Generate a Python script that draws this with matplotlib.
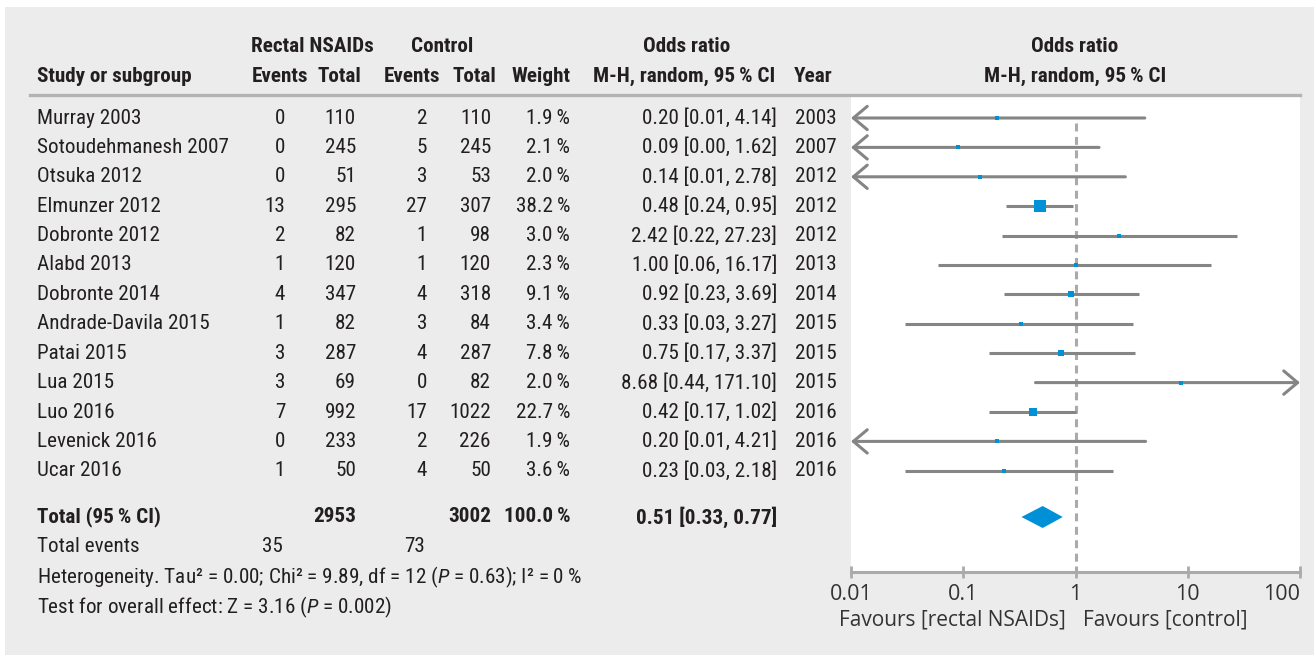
import numpy as np
import matplotlib
matplotlib.use("Agg")
import matplotlib.pyplot as plt
from matplotlib.patches import Rectangle, Polygon
from matplotlib.lines import Line2D
from matplotlib.ticker import NullLocator

plt.rcParams['font.family'] = ['Roboto Condensed', 'Roboto', 'DejaVu Sans']
plt.rcParams['mathtext.fontset'] = 'custom'
plt.rcParams['mathtext.rm'] = 'Roboto Condensed'
plt.rcParams['mathtext.it'] = 'Roboto Condensed:italic'

# data
studies = ["Murray 2003", "Sotoudehmanesh 2007", "Otsuka 2012", "Elmunzer 2012",
           "Dobronte 2012", "Alabd 2013", "Dobronte 2014", "Andrade-Davila 2015",
           "Patai 2015", "Lua 2015", "Luo 2016", "Levenick 2016", "Ucar 2016"]
ev_nsaid = [0, 0, 0, 13, 2, 1, 4, 1, 3, 3, 7, 0, 1]
tot_nsaid = [110, 245, 51, 295, 82, 120, 347, 82, 287, 69, 992, 233, 50]
ev_ctrl = [2, 5, 3, 27, 1, 1, 4, 3, 4, 0, 17, 2, 4]
tot_ctrl = [110, 245, 53, 307, 98, 120, 318, 84, 287, 82, 1022, 226, 50]
weight = [1.9, 2.1, 2.0, 38.2, 3.0, 2.3, 9.1, 3.4, 7.8, 2.0, 22.7, 1.9, 3.6]
odds = [0.20, 0.09, 0.14, 0.48, 2.42, 1.00, 0.92, 0.33, 0.75, 8.68, 0.42, 0.20, 0.23]
ci_lo = [0.01, 0.00, 0.01, 0.24, 0.22, 0.06, 0.23, 0.03, 0.17, 0.44, 0.17, 0.01, 0.03]
ci_hi = [4.14, 1.62, 2.78, 0.95, 27.23, 16.17, 3.69, 3.27, 3.37, 171.10, 1.02, 4.21, 2.18]
years = [2003, 2007, 2012, 2012, 2012, 2013, 2014, 2015, 2015, 2015, 2016, 2016, 2016]

total_nsaid, total_ctrl = 2953, 3002
events_nsaid, events_ctrl = 35, 73
pooled, pooled_lo, pooled_hi = 0.51, 0.33, 0.77
xticks = [0.01, 0.1, 1, 10, 100]
xticklabels = ['0.01', '0.1', '1', '10', '100']

W, H = 1314, 655
def fx(x):
    return x / W
def fy(y):
    return 1 - y / H

TXT = '#231f20'
GRID = '#aaaaaa'
LINE = '#858585'
BLUE = '#0090d8'
FS = 15.2

fig = plt.figure(figsize=(W / 100, H / 100), dpi=100)
fig.patches.append(Rectangle((fx(5), 0), 1 - fx(5), fy(7), transform=fig.transFigure,
                             facecolor='#ebeceb', edgecolor='none', zorder=-5))

def t(x, y, s, ha='left', bold=False, size=FS):
    fig.text(fx(x), fy(y), s, ha=ha, va='center', color=TXT, fontsize=size,
             fontweight='bold' if bold else 'normal')

# header
t(312, 46, "Rectal NSAIDs", 'center', True)
t(442, 46, "Control", 'center', True)
t(687, 46, "Odds ratio", 'center', True)
t(1075, 46, "Odds ratio", 'center', True)
t(37, 76, "Study or subgroup", bold=True)
t(280, 76, "Events", 'center', True)
t(339, 76, "Total", 'center', True)
t(412, 76, "Events", 'center', True)
t(474, 76, "Total", 'center', True)
t(541, 76, "Weight", 'center', True)
t(684, 76, "M-H, random, 95\u2009% CI", 'center', True)
t(813, 76, "Year", 'center', True)
t(1075, 76, "M-H, random, 95\u2009% CI", 'center', True)
fig.add_artist(Line2D([fx(30), fx(1300)], [fy(95), fy(95)], color='#b3b3b3', lw=2.4))

row0, step = 118, 29.4
rows = [row0 + i * step for i in range(len(studies))]
for i, y in enumerate(rows):
    t(37, y, studies[i])
    t(285, y, str(ev_nsaid[i]), 'right')
    t(356, y, str(tot_nsaid[i]), 'right')
    t(427, y, str(ev_ctrl[i]), 'right')
    t(491, y, str(tot_ctrl[i]), 'right')
    t(570, y, f"{weight[i]:.1f}\u2009%", 'right')
    t(777, y, f"{odds[i]:.2f} [{ci_lo[i]:.2f}, {ci_hi[i]:.2f}]", 'right')
    t(795, y, str(years[i]))

ytot = 517
t(37, ytot, "Total (95\u2009% CI)", bold=True)
t(356, ytot, str(total_nsaid), 'right', True)
t(491, ytot, str(total_ctrl), 'right', True)
t(570, ytot, "100.0\u2009%", 'right', True)
t(777, ytot, f"{pooled:.2f} [{pooled_lo:.2f}, {pooled_hi:.2f}]", 'right', True)
t(37, 546, "Total events")
t(283, 546, str(events_nsaid), 'right')
t(425, 546, str(events_ctrl), 'right')
t(37, 577, "Heterogeneity. Tau\u00b2 = 0.00; Chi\u00b2 = 9.89, df = 12 ($\\mathit{P}$ = 0.63); I\u00b2 = 0\u2009%")
t(37, 607, "Test for overall effect: Z = 3.16 ($\\mathit{P}$ = 0.002)")

# forest panel
ax = fig.add_axes([fx(851), fy(572), fx(1300) - fx(851), (572 - 97) / H])
ax.set_facecolor('white')
ax.set_xscale('log')
ax.set_xlim(0.01, 100)
ax.set_ylim(572, 97)
for s in ['top', 'left', 'right']:
    ax.spines[s].set_visible(False)
ax.spines['bottom'].set_color(GRID)
ax.spines['bottom'].set_linewidth(2.2)
ax.set_yticks([])
ax.set_xticks(xticks, xticklabels)
ax.xaxis.set_minor_locator(NullLocator())
ax.tick_params(axis='x', which='major', direction='inout', length=9, width=2,
               color=GRID, labelcolor='#333333', pad=4)
for lab in ax.get_xticklabels():
    lab.set_fontfamily(['Open Sans', 'DejaVu Sans'])
    lab.set_fontsize(15.5)
ax.get_xticklabels()[-1].set_horizontalalignment('right')

ax.plot([1, 1], [123, 572], color=GRID, lw=2.2, dashes=[2.6, 1.8], zorder=1)

xmin, xmax = ax.get_xlim()
for i, y in enumerate(rows):
    lo = max(ci_lo[i], xmin)
    hi = min(ci_hi[i], xmax)
    left_arrow = ci_lo[i] <= xmin
    right_arrow = ci_hi[i] >= xmax
    if left_arrow or right_arrow:
        start, end = (hi, lo) if left_arrow else (lo, hi)
        ax.annotate('', xy=(end, y), xytext=(start, y),
                    arrowprops=dict(arrowstyle='->,head_length=0.5,head_width=0.42',
                                    color=LINE, lw=2.2, shrinkA=0, shrinkB=0,
                                    mutation_scale=20), zorder=2)
    else:
        ax.plot([lo, hi], [y, y], color=LINE, lw=2.2, solid_capstyle='butt', zorder=2)
    side = max(4.2, 18 * np.sqrt(weight[i] / 100))
    ax.plot(odds[i], y, marker='s', color=BLUE, markersize=side * 0.72,
            markeredgewidth=0, zorder=3)

ax.add_patch(Polygon([(pooled_lo, ytot), (pooled, ytot - 11), (pooled_hi, ytot),
                      (pooled, ytot + 11)], closed=True, facecolor=BLUE,
                     edgecolor='none', zorder=3))

for s, x, ha in [("Favours [rectal NSAIDs]", 1066, 'right'), ("Favours [control]", 1083, 'left')]:
    fig.text(fx(x), fy(620), s, ha=ha, va='center', color='#333333', fontsize=15,
             family=['Open Sans', 'DejaVu Sans'])

fig.savefig("out.png", dpi=100, facecolor='white')
